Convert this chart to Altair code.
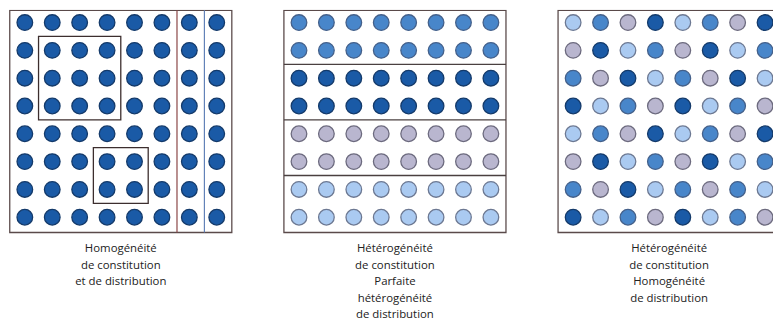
import altair as alt
import pandas as pd

# Circle colour codes per panel (rows top to bottom, 8 columns each)
# D = dark blue, M = medium blue, G = greyish lavender, L = light blue
panel1_rows = ["DDDDDDDD", "DDDDDDDD", "DDDDDDDD", "DDDDDDDD",
               "DDDDDDDD", "DDDDDDDD", "DDDDDDDD", "DDDDDDDD"]
panel2_rows = ["MMMMMMMM", "MMMMMMMM", "DDDDDDDD", "DDDDDDDD",
               "GGGGGGGG", "GGGGGGGG", "LLLLLLLL", "LLLLLLLL"]
panel3_rows = ["LMGDLMGD", "GDLMGDLM", "MGDLMGDL", "DLMGDLMG",
               "LMGDLMGD", "GDLMGDLM", "MGDLMGML", "DLMGDLMG"]

labels = [
    "Homogénéité\nde constitution\net de distribution",
    "Hétérogénéité\nde constitution\nParfaite\nhétérogénéité\nde distribution",
    "Hétérogénéité\nde constitution\nHomogénéité\nde distribution",
]

codes = ["D", "M", "G", "L"]
fills = ["#1a5aa6", "#4886ca", "#b9b6cf", "#aacaf1"]
strokes = ["#143a6a", "#44608a", "#6c6a7e", "#6c7892"]

# panel 1 sub-zones (column/row boundaries)
zone_boxes = [(0.5, 3.5, 0.5, 3.5), (2.5, 4.5, 4.5, 6.5)]
zone_vlines = [5.55, 6.55]
zone_vline_colors = ["#8a4545", "#6282b8"]
# panel 2 band separators (row boundaries)
band_hlines = [1.5, 3.5, 5.5]

PANEL_STEP = 10
FRAME_TOP, FRAME_BOTTOM = -0.44, 7.55
LABEL_TOP = 7.94
grids = [panel1_rows, panel2_rows, panel3_rows]

circ = pd.DataFrame([
    {"col": p * PANEL_STEP + c, "row": r, "code": ch}
    for p, g in enumerate(grids)
    for r, row in enumerate(g)
    for c, ch in enumerate(row)
])

frames = pd.DataFrame([
    {"x0": p * PANEL_STEP - 0.55, "x1": p * PANEL_STEP + 7.55, "y0": FRAME_TOP, "y1": FRAME_BOTTOM}
    for p in range(3)
])
boxes = pd.DataFrame([{"x0": a, "x1": b, "y0": c, "y1": d} for a, b, c, d in zone_boxes])
vlines = pd.DataFrame([{"x": x, "k": str(i), "y0": FRAME_TOP, "y1": FRAME_BOTTOM}
                       for i, x in enumerate(zone_vlines)])
hlines = pd.DataFrame([{"y": y, "x0": PANEL_STEP - 0.55, "x1": PANEL_STEP + 7.55} for y in band_hlines])
texts = pd.DataFrame([{"x": p * PANEL_STEP + 3.5, "y": LABEL_TOP, "label": t} for p, t in enumerate(labels)])

W, H = 773, 326
xs = alt.Scale(domain=[-0.614, 27.29], nice=False, zero=False)
ys = alt.Scale(domain=[-0.463, 11.139], nice=False, zero=False, reverse=True)

circles = alt.Chart(circ).mark_circle(size=250, opacity=1, strokeWidth=1.3).encode(
    x=alt.X("col:Q", scale=xs, axis=None),
    y=alt.Y("row:Q", scale=ys, axis=None),
    fill=alt.Fill("code:N", scale=alt.Scale(domain=codes, range=fills), legend=None),
    stroke=alt.Stroke("code:N", scale=alt.Scale(domain=codes, range=strokes), legend=None),
)

frame_layer = alt.Chart(frames).mark_rect(
    fillOpacity=0, stroke="#5a4a4a", strokeWidth=1.3, clip=True
).encode(
    x=alt.X("x0:Q", scale=xs, axis=None), x2="x1:Q",
    y=alt.Y("y0:Q", scale=ys, axis=None), y2="y1:Q",
)

box_layer = alt.Chart(boxes).mark_rect(
    fillOpacity=0, stroke="#3c2e2e", strokeWidth=1.3
).encode(
    x=alt.X("x0:Q", scale=xs, axis=None), x2="x1:Q",
    y=alt.Y("y0:Q", scale=ys, axis=None), y2="y1:Q",
)

vline_layer = alt.Chart(vlines).mark_rule(strokeWidth=1.2).encode(
    x=alt.X("x:Q", scale=xs, axis=None),
    y=alt.Y("y0:Q", scale=ys, axis=None), y2="y1:Q",
    color=alt.Color("k:N", scale=alt.Scale(domain=["0", "1"], range=zone_vline_colors), legend=None),
)

hline_layer = alt.Chart(hlines).mark_rule(strokeWidth=1.3, color="#4a4040").encode(
    y=alt.Y("y:Q", scale=ys, axis=None),
    x=alt.X("x0:Q", scale=xs, axis=None), x2="x1:Q",
)

text_layer = alt.Chart(texts).mark_text(
    lineBreak="\n", lineHeight=16.7, fontSize=11.5, baseline="top", align="center",
    color="#222222", font="Open Sans",
).encode(
    x=alt.X("x:Q", scale=xs, axis=None),
    y=alt.Y("y:Q", scale=ys, axis=None),
    text="label:N",
)

chart = alt.layer(
    circles, frame_layer, box_layer, vline_layer, hline_layer, text_layer
).properties(
    width=W, height=H, autosize=alt.AutoSizeParams(type="none"), padding=0,
    background="white",
).configure_view(stroke=None)

chart.save("out.html", embed_options={"renderer": "svg", "actions": False})
